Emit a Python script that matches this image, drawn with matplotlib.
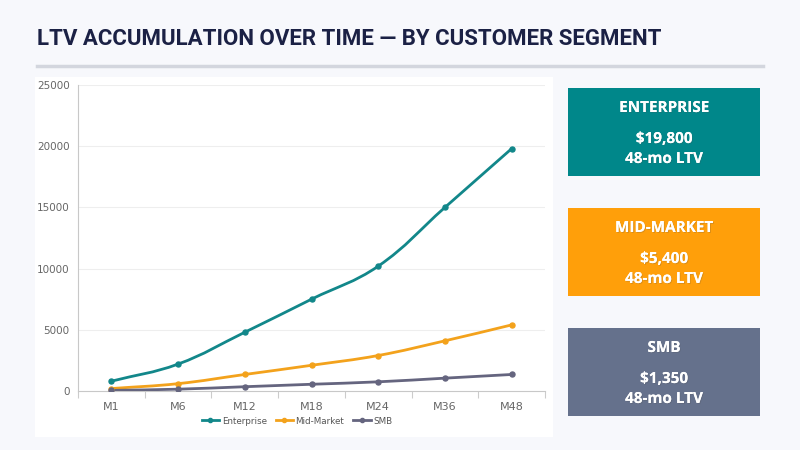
import matplotlib
matplotlib.use("Agg")
import matplotlib.pyplot as plt
import matplotlib.patheffects as pe
from matplotlib.path import Path
from matplotlib.patches import PathPatch, Rectangle
from matplotlib.lines import Line2D

months = ["M1", "M6", "M12", "M18", "M24", "M36", "M48"]
enterprise = [800, 2200, 4800, 7500, 10200, 15000, 19800]
mid_market = [200, 600, 1350, 2100, 2900, 4100, 5400]
smb = [50, 150, 350, 550, 750, 1050, 1350]

series_names = ["Enterprise", "Mid-Market", "SMB"]
series_colors = ["#12878a", "#f3a21c", "#65657f"]

card_titles = ["ENTERPRISE", "MID-MARKET", "SMB"]
card_values = ["$19,800", "$5,400", "$1,350"]
card_colors = ["#00878a", "#ff9f0a", "#65718c"]

W, H = 800, 450
BG = "#f7f8fc"


def px(x, y):
    # pixel coords (top-left origin) -> figure fraction
    return x / W, 1 - y / H


def smooth_path(ax, xs, ys, tension=0.4):
    pts = ax.transData.transform(list(zip(xs, ys)))
    n = len(pts)
    cps = []
    for i in range(n):
        p1 = pts[i]
        p0 = pts[i - 1] if i > 0 else p1
        p2 = pts[i + 1] if i < n - 1 else p1
        d01 = ((p1 - p0) ** 2).sum() ** 0.5
        d12 = ((p2 - p1) ** 2).sum() ** 0.5
        tot = d01 + d12 if d01 + d12 > 0 else 1
        fa = tension * d01 / tot
        fb = tension * d12 / tot
        cps.append((p1 - fa * (p2 - p0), p1 + fb * (p2 - p0)))
    verts = [pts[0]]
    codes = [Path.MOVETO]
    for i in range(n - 1):
        verts += [cps[i][1], cps[i + 1][0], pts[i + 1]]
        codes += [Path.CURVE4] * 3
    return Path(verts, codes)


fig = plt.figure(figsize=(8, 4.5), dpi=100)
fig.patch.set_facecolor(BG)

# title and rule
fig.text(*px(37, 39), "LTV ACCUMULATION OVER TIME — BY CUSTOMER SEGMENT",
         fontsize=16, fontweight="bold", family="Roboto", color="#1b2145",
         va="center", ha="left")
fig.add_artist(Line2D([37 / W, 763 / W], [1 - 66 / H, 1 - 66 / H],
                      color="#d3d6de", lw=2.5))

# white chart panel
fig.add_artist(Rectangle(px(35, 437), 518 / W, 360 / H, facecolor="white",
                         edgecolor="none", transform=fig.transFigure, zorder=0))

ax = fig.add_axes([78 / W, 1 - 391 / H, 467 / W, 306 / H])
ax.set_facecolor("white")
ax.set_xlim(-0.5, len(months) - 0.5)
ax.set_ylim(0, 25000)
ax.set_yticks(range(0, 25001, 5000))
ax.set_xticks(range(len(months)))
ax.set_xticklabels(months)
ax.set_xticks([i - 0.5 for i in range(len(months) + 1)], minor=True)
ax.tick_params(axis="x", which="major", length=0, pad=8, labelsize=8, labelcolor="#666666")
ax.tick_params(axis="x", which="minor", length=5, color="#cccccc", width=0.8)
ax.tick_params(axis="y", length=0, pad=6, labelsize=7.5, labelcolor="#666666")
ax.grid(axis="y", color="#eeeeee", lw=0.8)
ax.set_axisbelow(True)
for s in ["top", "right"]:
    ax.spines[s].set_visible(False)
for s in ["left", "bottom"]:
    ax.spines[s].set_color("#c8c8c8")
    ax.spines[s].set_linewidth(0.8)

xs = list(range(len(months)))
handles = []
for vals, name, col in zip([enterprise, mid_market, smb], series_names, series_colors):
    path = smooth_path(ax, xs, vals)
    ax.add_artist(PathPatch(path, transform=None, facecolor="none",
                            edgecolor=col, lw=2.0, zorder=3))
    ax.plot(xs, vals, "o", color=col, ms=3.6, zorder=4)
    handles.append(Line2D([0], [0], color=col, lw=2.0, marker="o", ms=3.0, label=name))

fig.legend(handles=handles, loc="center", bbox_to_anchor=px(297, 421), ncol=3,
           frameon=False, fontsize=6.3, handlelength=2.0, handletextpad=0.3,
           columnspacing=1.0, labelcolor="#555555")

# KPI cards
shadow = [pe.withSimplePatchShadow(offset=(0.7, -0.7), alpha=0.2), pe.Normal()]
for i, (t, v, c) in enumerate(zip(card_titles, card_values, card_colors)):
    top = 88 + i * 120
    fig.add_artist(Rectangle(px(568, top + 88), 192 / W, 88 / H, facecolor=c,
                             edgecolor="none", transform=fig.transFigure, zorder=1))
    cx = 664
    for dy, s in [(20, t), (51, v), (71, "48-mo LTV")]:
        fig.text(*px(cx, top + dy), s, fontsize=11, fontweight="bold",
                 family="Open Sans", color="white", ha="center", va="center",
                 path_effects=shadow)

fig.savefig("out.png", dpi=100, facecolor=BG)
